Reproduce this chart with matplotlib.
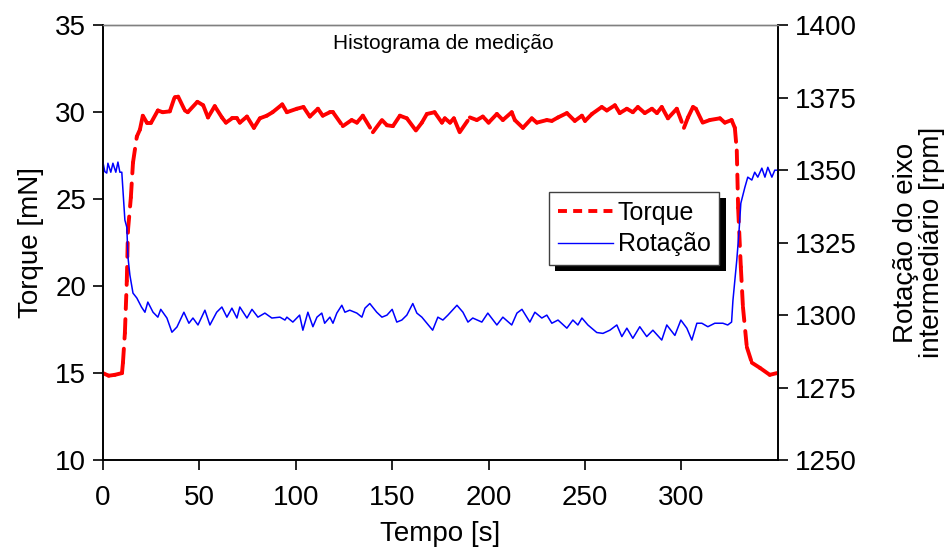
import numpy as np
import matplotlib
matplotlib.use("Agg")
import matplotlib.pyplot as plt
from matplotlib.collections import LineCollection
from matplotlib.lines import Line2D
from matplotlib import patheffects

plt.rcParams['font.family'] = ['Liberation Sans', 'DejaVu Sans']

# Torque [mN] vs time [s]
t_torque = [0, 3, 6.2, 9.9, 10.4, 11.4, 12.4, 13, 14.5, 15.6, 17.6, 19.2, 20.7, 22.8, 25,
            28.5, 31, 34.7, 37.3, 39, 42.5, 44, 49, 52, 54.5, 58, 61.7, 63.8, 67, 69.5,
            71, 74.7, 78.3, 81.4, 85, 88, 93, 95.4, 100.6, 104, 107.3, 111.5, 114, 117.7,
            119.3, 124.4, 129, 131.7, 134.8, 140, 144.7, 147.3, 150.4, 154, 157.6, 162.3,
            165.4, 168, 172, 175.8, 177.3, 180, 182, 185, 190.3, 193.9, 197, 200, 204.3,
            207.4, 212, 213.6, 217.8, 222.4, 225, 230.2, 232.8, 236, 240.6, 244.7, 248.4,
            250, 253.6, 258.7, 261.3, 265.5, 268, 271.7, 274.8, 277.4, 281, 284.7, 287.3,
            289.8, 293, 297.6, 301.3, 303.4, 306, 307.5, 311, 314.7, 320, 322.5, 326, 327.7,
            328.7, 329.4, 330.8, 331.9, 333.9, 336.5, 340.7, 345.8, 349.5]
torque = [15.0, 14.85, 14.9, 15.0, 15.6, 17.3, 20.3, 23.2, 25.1, 27.1, 28.6, 29.0, 29.8, 29.4, 29.4,
          30.1, 30.0, 30.05, 30.9, 30.9, 30.1, 30.0, 30.6, 30.4, 29.7, 30.35, 29.7, 29.4, 29.65, 29.65,
          29.4, 29.75, 29.1, 29.65, 29.8, 30.0, 30.45, 30.0, 30.2, 30.3, 29.75, 30.2, 29.8, 30.0,
          30.0, 29.2, 29.55, 29.4, 29.8, 28.85, 29.55, 29.25, 29.2, 29.8, 29.65, 28.95,
          29.4, 29.9, 30.0, 29.4, 29.65, 29.4, 29.65, 28.85, 29.7, 29.55, 29.75, 29.4, 29.9,
          29.55, 30.0, 29.55, 29.1, 29.65, 29.4, 29.55, 29.5, 29.7, 29.95, 29.5, 29.8,
          29.5, 29.9, 30.3, 30.1, 30.4, 29.95, 30.2, 30.0, 30.3, 29.95, 30.2, 29.95,
          30.3, 29.65, 30.2, 29.1, 29.7, 30.3, 30.2, 29.4, 29.55, 29.65, 29.4, 29.55, 29.1,
          27.8, 24.5, 21.1, 18.8, 16.5, 15.6, 15.3, 14.9, 15.0]

# Rotation of intermediate shaft [rpm]
t_rot = [0, 1, 2, 2.6, 4.1, 5.2, 6.7, 7.8, 8.8, 9.8, 10.4, 11.4, 12.4, 13, 14, 15.6, 17.6, 20,
         21.8, 23.3, 26, 28.5, 30, 33.2, 35.8, 38.4, 42, 44.6, 46.7, 49.3, 52.9, 55.5, 59,
         61.7, 64.3, 66.9, 69.5, 71, 74.7, 77.3, 80.4, 84, 87.6, 91.8, 94.4, 95.4, 98.5, 102,
         103.7, 106.3, 108.9, 111, 113.5, 115, 117.7, 119.3, 121.3, 123.9, 125.5, 128, 131.7,
         134.3, 135.9, 138.4, 142, 144.7, 147.3, 150, 152.4, 155, 157.6, 160.7, 162.8, 165.4,
         168, 171, 173.7, 176.3, 178.9, 183.6, 186.7, 189.3, 191.8, 196.5, 199.6, 204.3, 207.4,
         212, 214.7, 217.3, 221.4, 224, 227.6, 230.2, 232.8, 236, 240.6, 243.7, 246.3, 248.4,
         251.5, 256.1, 259.3, 262.9, 266.5, 269.1, 271.7, 274.8, 278.4, 282, 285.2, 289.8,
         292.4, 296.6, 299.7, 302.8, 305.4, 308, 310.6, 313.7, 317.3, 321.5, 324, 326, 326.7,
         328.7, 329.8, 330.8, 332.9, 334.4, 336.5, 338, 339.6, 341.7, 343.3, 344.8, 346.9,
         348.4, 349.5]
rotation = [1352.8, 1349.5, 1349, 1352.4, 1349.3, 1352.4, 1349.3, 1352.8, 1349.3, 1349.3, 1343,
            1332.8, 1330.3, 1320, 1313.8, 1307.6, 1305.9, 1302.8, 1301, 1304.5, 1301, 1299.3,
            1302, 1299, 1294.1, 1295.9, 1301, 1297.2, 1299, 1296.6, 1301.7, 1296.6, 1301,
            1302.8, 1299.3, 1302.4, 1299, 1302.8, 1299, 1302, 1299.3, 1300.7, 1299, 1299.3,
            1298.3, 1299.3, 1297.6, 1300, 1294.8, 1301, 1296, 1299.3, 1300.7, 1297.2, 1299.3,
            1297.2, 1300.7, 1303.4, 1301, 1301.7, 1300.7, 1299.3, 1302.4, 1304, 1301, 1299.3,
            1300, 1302, 1297.6, 1298.3, 1300, 1304, 1300.7, 1299.3, 1297.2, 1294.8, 1299.3,
            1298.3, 1300, 1303.4, 1301, 1297.6, 1299, 1297.6, 1300.7, 1296.6, 1299.3, 1296.6,
            1300.7, 1302, 1297.6, 1301, 1299, 1300, 1297.2, 1298.3, 1295.5, 1298.3, 1296.6,
            1299, 1296.6, 1294, 1293.7, 1294.8, 1296.6, 1292.6, 1295.5, 1292, 1296, 1292.6,
            1294.8, 1291.4, 1296.6, 1293, 1298.3, 1295.5, 1291.4, 1297.2, 1297.2, 1296,
            1297.2, 1297.2, 1296.6, 1297.6, 1305, 1319, 1328.3, 1338.6, 1344.1, 1347.6,
            1346.6, 1349.3, 1347.6, 1350.7, 1347.6, 1351, 1347.6, 1350, 1350]

x_ticks = [0, 50, 100, 150, 200, 250, 300]
left_ticks = [10, 15, 20, 25, 30, 35]
right_ticks = [1250, 1275, 1300, 1325, 1350, 1375, 1400]

fig = plt.figure(figsize=(9.44, 5.49), dpi=100)
ax = fig.add_axes([0.109, 0.162, 0.715, 0.792])
ax2 = ax.twinx()

# torque: dash pattern restarts on every segment (looks solid where points are dense)
pts = np.column_stack([t_torque, torque])
segs = np.stack([pts[:-1], pts[1:]], axis=1)
lc = LineCollection(segs, colors='#ff0000', linewidths=2.8,
                    linestyles=[(0, (3.6, 2.6))], capstyle='round', zorder=3)
ax.add_collection(lc)

ax2.plot(t_rot, rotation, color='#0000ff', lw=1.1, zorder=2)

ax.set_xlim(0, 350)
ax.set_ylim(10, 35)
ax2.set_ylim(1250, 1400)
ax.set_xticks(x_ticks)
ax.set_yticks(left_ticks)
ax2.set_yticks(right_ticks)

for a in (ax, ax2):
    a.tick_params(labelsize=20, length=7, width=1.2, direction='out', pad=5)
    for s in a.spines.values():
        s.set_linewidth(1.2)
        s.set_color('black')
    a.spines['top'].set_color('#808080')
    a.spines['top'].set_linewidth(1)
ax.tick_params(axis='x', pad=11)

ax.set_xlabel("Tempo [s]", fontsize=20, labelpad=7)
ax.set_ylabel("Torque [mN]", fontsize=20, labelpad=8)
ax2.set_ylabel("Rotação do eixo\nintermediário [rpm]", fontsize=20, labelpad=26,
               linespacing=1.0)

ax.text(0.504, 0.98, "Histograma de medição", transform=ax.transAxes,
        ha='center', va='top', fontsize=15)

handles = [Line2D([], [], color='#ff0000', lw=2.8, dashes=(2.3, 1.6)),
           Line2D([], [], color='#0000ff', lw=1)]
leg = ax2.legend(handles, ["Torque", "Rotação"], loc='upper left',
                 bbox_to_anchor=(0.661, 0.616), borderaxespad=0, fontsize=18,
                 fancybox=False, framealpha=1, edgecolor='#404040',
                 handlelength=2.2, handletextpad=0.2, labelspacing=0.3,
                 borderpad=0.35)
leg.get_frame().set_linewidth(1)
leg.get_frame().set_path_effects([
    patheffects.SimplePatchShadow(offset=(4.5, -4.5), shadow_rgbFace='black', alpha=1),
    patheffects.Normal()])

fig.savefig("out.png", dpi=100)
